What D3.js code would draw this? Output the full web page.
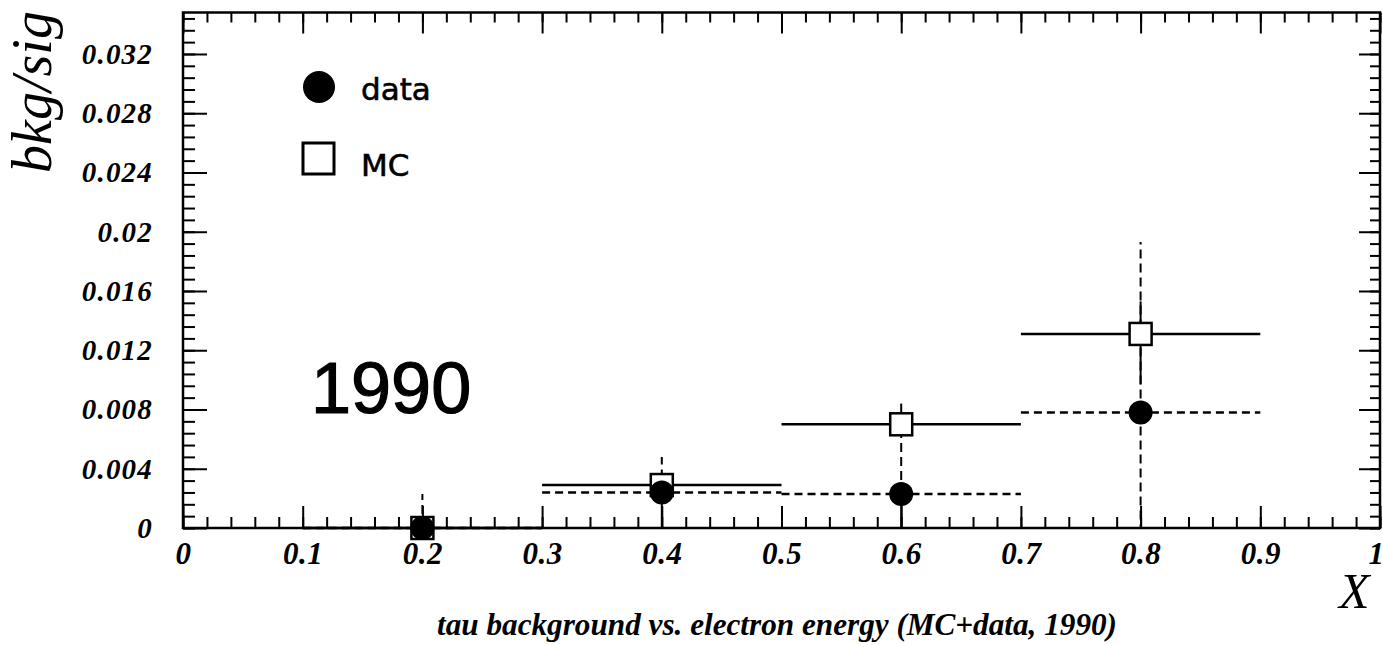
<!DOCTYPE html>
<html>
<head>
<meta charset="utf-8">
<script src="https://cdn.jsdelivr.net/npm/d3@7/dist/d3.min.js"></script>
<style>
  html, body { margin: 0; padding: 0; background: #fff; }
  svg { display: block; }
</style>
</head>
<body>
<svg id="chart" width="1383" height="645"></svg>
<script>
// Bin centres and edges in X
const binCenters = [0.2, 0.4, 0.6, 0.8];
const binLow     = [0.1, 0.3, 0.5, 0.7];
const binHigh    = [0.3, 0.5, 0.7, 0.9];

// MC: bkg/sig with asymmetric errors
const mcValues   = [0.0, 0.0029, 0.0070, 0.0131];
const mcErrLow   = [0.0, 0.0003, 0.0006, 0.0034];
const mcErrHigh  = [0.0, 0.0003, 0.0014, 0.0022];

// data: bkg/sig with asymmetric errors
const dataValues  = [0.0, 0.0024, 0.0023, 0.0078];
const dataErrLow  = [0.0023, 0.0030, 0.0040, 0.0078];
const dataErrHigh = [0.0023, 0.0024, 0.0041, 0.0115];

// Axis ticks
const xMajorTicks = [0, 0.1, 0.2, 0.3, 0.4, 0.5, 0.6, 0.7, 0.8, 0.9, 1];
const xTickLabels = ["0", "0.1", "0.2", "0.3", "0.4", "0.5", "0.6", "0.7", "0.8", "0.9", "1"];
const yMajorTicks = [0, 0.004, 0.008, 0.012, 0.016, 0.02, 0.024, 0.028, 0.032];
const yTickLabels = ["0", "0.004", "0.008", "0.012", "0.016", "0.02", "0.024", "0.028", "0.032"];
const xDomain = [0, 1];
const yDomain = [0, 0.0348];

const legendEntries = ["data", "MC"];
const yearLabel = "1990";
const yTitle = "bkg/sig";
const xTitle = "X";
const caption = "tau background vs. electron energy (MC+data, 1990)";

const svg = d3.select("#chart");
const L = 183, R = 1380, T = 12.5, B = 528;

const x = d3.scaleLinear().domain(xDomain).range([L, R]);
const y = d3.scaleLinear().domain(yDomain).range([B, T]);

const xMinor = d3.range(0, 1.0001, 0.02).map(v => +v.toFixed(2));
const yMinor = d3.range(0, 0.03481, 0.0008).map(v => +v.toFixed(4));

const serif = "Liberation Serif, Times New Roman, serif";
const sans = "DejaVu Sans, Liberation Sans, sans-serif";

function styleAxis(g) {
  g.select(".domain").remove();
  g.selectAll(".tick line").attr("stroke", "#000").attr("stroke-width", 2);
}

// Bottom axis
svg.append("g").attr("transform", `translate(0,${B})`)
  .call(d3.axisBottom(x).tickValues(xMinor).tickSize(-11).tickFormat(""))
  .call(styleAxis);
svg.append("g").attr("transform", `translate(0,${B})`)
  .call(d3.axisBottom(x).tickValues(xMajorTicks).tickSize(-22).tickPadding(14)
    .tickFormat((d, i) => xTickLabels[i]))
  .call(styleAxis)
  .call(g => g.selectAll("text")
    .attr("font-family", serif).attr("font-style", "italic").attr("font-weight", "bold")
    .attr("font-size", 31).attr("letter-spacing", 0.5).attr("fill", "#000")
    .attr("text-anchor", (d, i) => i === xMajorTicks.length - 1 ? "end" : "middle")
    .attr("dx", (d, i) => i === xMajorTicks.length - 1 ? 4 : 0));

// Top axis
svg.append("g").attr("transform", `translate(0,${T})`)
  .call(d3.axisTop(x).tickValues(xMinor).tickSize(-10).tickFormat(""))
  .call(styleAxis);
svg.append("g").attr("transform", `translate(0,${T})`)
  .call(d3.axisTop(x).tickValues(xMajorTicks).tickSize(-21).tickFormat(""))
  .call(styleAxis);

// Left axis
svg.append("g").attr("transform", `translate(${L},0)`)
  .call(d3.axisLeft(y).tickValues(yMinor).tickSize(-12).tickFormat(""))
  .call(styleAxis);
svg.append("g").attr("transform", `translate(${L},0)`)
  .call(d3.axisLeft(y).tickValues(yMajorTicks).tickSize(-24).tickPadding(30)
    .tickFormat((d, i) => yTickLabels[i]))
  .call(styleAxis)
  .call(g => g.selectAll("text")
    .attr("font-family", serif).attr("font-style", "italic").attr("font-weight", "bold")
    .attr("font-size", 29).attr("letter-spacing", 1.2).attr("fill", "#000"));

// Right axis
svg.append("g").attr("transform", `translate(${R},0)`)
  .call(d3.axisRight(y).tickValues(yMinor).tickSize(-10).tickFormat(""))
  .call(styleAxis);
svg.append("g").attr("transform", `translate(${R},0)`)
  .call(d3.axisRight(y).tickValues(yMajorTicks).tickSize(-21).tickFormat(""))
  .call(styleAxis);

// Frame
svg.append("rect")
  .attr("x", L).attr("y", T).attr("width", R - L).attr("height", B - T)
  .attr("fill", "none").attr("stroke", "#000").attr("stroke-width", 2.5);

const idx = d3.range(binCenters.length);
const plot = svg.append("g");

// Horizontal bin-width bars
plot.selectAll(".mc-h").data(idx).join("line")
  .attr("x1", i => x(binLow[i])).attr("x2", i => x(binHigh[i]))
  .attr("y1", i => y(mcValues[i])).attr("y2", i => y(mcValues[i]))
  .attr("stroke", "#000").attr("stroke-width", 2.5);
plot.selectAll(".data-h").data(idx).join("line")
  .attr("x1", i => x(binLow[i])).attr("x2", i => x(binHigh[i]))
  .attr("y1", i => y(dataValues[i])).attr("y2", i => y(dataValues[i]))
  .attr("stroke", "#000").attr("stroke-width", 2.5).attr("stroke-dasharray", "8,5");

// data vertical errors: dashed; a lower end clipped at zero is drawn solid
const clampY = v => y(Math.max(yDomain[0], v));
plot.selectAll(".data-up").data(idx).join("line")
  .attr("x1", i => x(binCenters[i])).attr("x2", i => x(binCenters[i]))
  .attr("y1", i => y(dataValues[i])).attr("y2", i => y(dataValues[i] + dataErrHigh[i]))
  .attr("stroke", "#000").attr("stroke-width", 2).attr("stroke-dasharray", "9,5");
plot.selectAll(".data-down").data(idx).join("line")
  .attr("x1", i => x(binCenters[i])).attr("x2", i => x(binCenters[i]))
  .attr("y1", i => y(dataValues[i])).attr("y2", i => clampY(dataValues[i] - dataErrLow[i]))
  .attr("stroke", "#000").attr("stroke-width", 2)
  .attr("stroke-dasharray", i => dataValues[i] - dataErrLow[i] < yDomain[0] - 1e-9 ? null : "9,5");

// MC vertical errors: solid
plot.selectAll(".mc-v").data(idx).join("line")
  .attr("x1", i => x(binCenters[i])).attr("x2", i => x(binCenters[i]))
  .attr("y1", i => clampY(mcValues[i] - mcErrLow[i])).attr("y2", i => y(mcValues[i] + mcErrHigh[i]))
  .attr("stroke", "#000").attr("stroke-width", 2);

// MC markers: open squares
const sq = 22;
plot.selectAll(".mc-pt").data(idx).join("rect")
  .attr("x", i => x(binCenters[i]) - sq / 2).attr("y", i => y(mcValues[i]) - sq / 2)
  .attr("width", sq).attr("height", sq)
  .attr("fill", "#fff").attr("stroke", "#000").attr("stroke-width", 2.5);

// data markers: filled circles
plot.selectAll(".data-pt").data(idx).join("circle")
  .attr("cx", i => x(binCenters[i])).attr("cy", i => y(dataValues[i]))
  .attr("r", 12).attr("fill", "#000");

// Legend
const leg = svg.append("g");
leg.append("circle").attr("cx", 319).attr("cy", 87).attr("r", 16).attr("fill", "#000");
leg.append("rect").attr("x", 303).attr("y", 143).attr("width", 31).attr("height", 31)
  .attr("fill", "#fff").attr("stroke", "#000").attr("stroke-width", 3);
leg.selectAll("text").data(legendEntries).join("text")
  .attr("x", 361).attr("y", (d, i) => 100 + i * 76)
  .attr("font-family", sans).attr("font-size", 31).attr("fill", "#000")
  .attr("stroke", "#000").attr("stroke-width", 0.6)
  .text(d => d);

// Year label
svg.append("text").attr("x", 311).attr("y", 413)
  .attr("font-family", "Liberation Sans, Arial, sans-serif").attr("font-size", 72)
  .attr("fill", "#000").attr("stroke", "#000").attr("stroke-width", 1.2).text(yearLabel);

// Axis titles
svg.append("text").attr("transform", "translate(51,92) rotate(-90)")
  .attr("text-anchor", "middle").attr("font-family", serif).attr("font-style", "italic")
  .attr("font-size", 56).attr("fill", "#000").text(yTitle);
svg.append("text").attr("x", 1339).attr("y", 608)
  .attr("font-family", serif).attr("font-style", "italic")
  .attr("font-size", 50).attr("fill", "#000").text(xTitle);

// Caption
svg.append("text").attr("x", 777).attr("y", 635).attr("text-anchor", "middle")
  .attr("font-family", serif).attr("font-style", "italic").attr("font-weight", "bold")
  .attr("font-size", 31).attr("textLength", 680).attr("lengthAdjust", "spacingAndGlyphs")
  .attr("fill", "#000").text(caption);
</script>
</body>
</html>
